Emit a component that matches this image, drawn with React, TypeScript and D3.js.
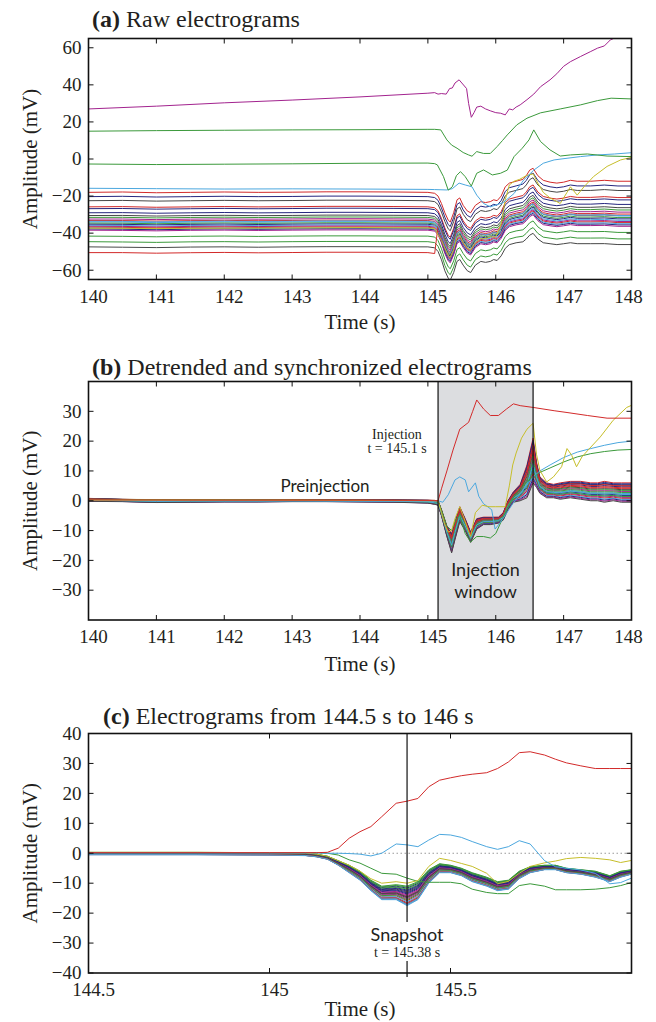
import React from "react";
import * as d3 from "d3";

const RED = "#d22a2a", NAVY = "#26267f", GREEN = "#3b993b", LBLUE = "#4ba7de", MAGENTA = "#a2238e", YELLOW = "#c6be2a", DGRAY = "#474747";

// ---------- Panel (a) raw electrograms ----------
const timeA = [140, 140.5, 141, 141.5, 142, 142.5, 143, 143.5, 144, 144.5, 145.0,
  145.1, 145.15, 145.2, 145.25, 145.3, 145.33, 145.38, 145.43, 145.47, 145.52,
  145.58, 145.63, 145.7, 145.78, 145.85, 145.92, 145.97, 146.02, 146.08, 146.14,
  146.2, 146.3, 146.4, 146.45, 146.5, 146.55, 146.62, 146.7, 146.8, 146.9,
  147.0, 147.1, 147.2, 147.4, 147.6, 147.8, 148.0];
const hiRelA = [0, 0.2, -0.2, 0, 0.2, 0, 0.1, 0.3, 0.3, 0.2, 0,
  -0.5, -2, -6, -11, -15, -16, -11, -4, -3, -7,
  -10, -11, -7, -5, -5.5, -5, -4, -4.5, -2, 3,
  5, 6, 7, 9, 12, 13, 9, 6.5, 5.5, 5,
  5.5, 6.5, 6, 6, 6.5, 6, 6];
const loRelA = [0, -0.2, -0.4, -0.1, 0, -0.2, 0, 0.1, 0.1, 0, 0,
  -0.5, -2.5, -7, -13, -17, -18, -14, -8, -7, -10,
  -13, -14, -10, -8, -8.5, -8, -7, -7.5, -5, -1,
  1, 2, 2.5, 4, 6, 7, 4, 2, 1.5, 1,
  1.5, 2, 1.5, 1.5, 1.5, 1, 1];

const bundleColors = [RED, NAVY, DGRAY, RED, NAVY, NAVY, DGRAY, GREEN, MAGENTA, RED, LBLUE, GREEN,
  NAVY, LBLUE, MAGENTA, RED, LBLUE, NAVY, MAGENTA, GREEN, GREEN, DGRAY, RED, LBLUE];
const baseA = [-18, -20.3, -22.5, -25.8, -26.8, -29, -30.5, -31.5, -32.4, -33.2, -34, -34.6,
  -35.2, -35.8, -36.3, -36.8, -37.3, -37.8, -38.4, -41.6, -44.6, -47.4, -50.5, -33.6];
const baseAfterA = [-18, -20.3, -22.5, -25.8, -26.8, -29, -30.5, -31.5, -32.4, -33.2, -34, -34.6,
  -35.2, -35.8, -36.3, -36.8, -37.3, -37.8, -38.4, -41.6, -44.6, -47.4, -34, -33.6];
const fracA = [0, 0.05, 0.1, 0.2, 0.25, 0.3, 0.35, 0.4, 0.45, 0.5, 0.55, 0.6,
  0.62, 0.65, 0.68, 0.7, 0.72, 0.75, 0.78, 0.8, 0.9, 0.95, 0.5, 0.58];

const purpleAT = [140, 141, 142, 143, 144, 145, 145.1, 145.15, 145.2, 145.27, 145.32, 145.36, 145.4, 145.46,
  145.5, 145.57, 145.6, 145.64, 145.68, 145.72, 145.78, 145.85, 145.92, 146.0, 146.07, 146.14, 146.2,
  146.25, 146.3, 146.36, 146.46, 146.56, 146.66, 146.8, 146.9, 147.0, 147.1, 147.25, 147.4, 147.5,
  147.6, 147.69, 147.8, 148];
const purpleAV = [27, 28.5, 30.3, 31.8, 33.5, 35.5, 35.8, 35, 35.3, 35, 38, 38.3, 41, 42.7,
  41, 38, 30, 22.5, 25, 28, 28.5, 27, 26, 25, 24.7, 23.8, 27,
  26.5, 28, 29.2, 32, 35, 39, 42.7, 46, 50, 52.5, 55.3, 58, 59.8,
  61, 64.3, 66, 68];
const greenTopAT = [140, 141, 142, 143, 144, 145, 145.1, 145.19, 145.28, 145.35, 145.43, 145.52, 145.6,
  145.65, 145.72, 145.82, 145.92, 146.02, 146.1, 146.17, 146.31, 146.46, 146.66, 146.95, 147.25,
  147.5, 147.7, 148];
const greenTopAV = [15, 15.3, 15.5, 15.7, 15.8, 16, 16, 15.7, 10.3, 7.5, 5.8, 3.5, 2.2,
  1.5, 4, 3, 3, 6.7, 10, 13, 18.4, 22, 24.9, 27, 29.2,
  31.5, 32.8, 32.4];
const green2AT = [140, 141, 142, 143, 144, 145, 145.1, 145.14, 145.23, 145.3, 145.36, 145.42, 145.48,
  145.55, 145.64, 145.72, 145.82, 145.95, 146.07, 146.17, 146.27, 146.39, 146.49, 146.56, 146.66,
  146.8, 146.95, 147.1, 147.35, 147.64, 148];
const green2AV = [-2.7, -3, -2.8, -2.6, -2.3, -2.2, -2.5, -3.2, -9.5, -16.8, -15, -9, -6.8,
  -9.5, -14.6, -7.7, -5.9, -8.6, -7.7, -6, 1.3, 5.8, 10.3, 15.7, 9.4,
  4.9, 1.6, 2.2, 2.7, 1.6, 1.3];
const blueAT = [140, 141, 142, 143, 144, 145, 145.1, 145.28, 145.36, 145.46, 145.55, 145.65, 145.72,
  145.82, 145.92, 146.11, 146.27, 146.41, 146.56, 146.7, 146.86, 147.05, 147.25, 147.5, 147.75, 148];
const blueAV = [-15.8, -16, -16.2, -16.1, -16.2, -16.4, -16.5, -16.7, -16, -13, -14, -15, -19.5,
  -24, -25.8, -23.5, -18.6, -11.4, -6, -2.3, -0.5, 0.4, 1.3, 2.2, 2.7, 3.4];
const yellowAT = [140, 141, 142, 143, 144, 145, 145.1, 145.2, 145.3, 145.33, 145.38, 145.43, 145.47,
  145.52, 145.58, 145.63, 145.7, 145.78, 145.85, 145.92, 146.0, 146.08, 146.14, 146.2, 146.27, 146.35,
  146.45, 146.55, 146.62, 146.7, 146.8, 146.95, 147.05, 147.1, 147.2, 147.3, 147.44, 147.64, 147.84, 148];
const yellowAV = [-37.3, -37.5, -37.3, -37.2, -37, -37.2, -37.5, -44, -52, -53, -49, -42, -41,
  -45, -48, -49, -45, -43, -43, -42, -42, -35, -22, -14, -12, -11,
  -9, -8, -13, -18, -21, -24, -18, -15, -19.5, -15, -9.5, -4, -0.5, 0.9];

// ---------- Panel (b) detrended ----------
const timeB = [140, 140.5, 141, 141.5, 142, 142.5, 143, 143.5, 144, 144.5, 145.0, 145.1,
  145.15, 145.2, 145.28, 145.35, 145.4, 145.47, 145.55, 145.63, 145.72, 145.82,
  145.92, 146.04, 146.11, 146.18, 146.26, 146.36, 146.46, 146.55, 146.6, 146.65,
  146.75, 146.85, 146.95, 147.1, 147.25, 147.4, 147.5, 147.6, 147.73, 147.85, 148];
const topB = [0.8, 0.5, 0.3, 0.4, 0.3, 0.3, 0.4, 0.3, 0.3, 0.3, 0.2, 0.1,
  0, -3, -8.5, -11, -7, -2, -6, -10.5, -6, -5.5,
  -5.5, -5.5, -4, 0, 3, 5.5, 12, 21, 13, 8,
  6, 5.5, 6, 6.5, 6.5, 6, 6, 6.5, 6, 6, 6];
const botB = [-0.2, -0.3, -0.6, -0.5, -0.4, -0.4, -0.3, -0.3, -0.4, -0.5, -0.8, -1.2,
  -1.5, -5, -12, -17.5, -13, -7, -10, -14, -9.5, -8,
  -8, -7.5, -6.5, -3, -0.5, 0, 1, 6, 4.5, 2.5,
  1, 1, 0.5, 1, 0.5, 0, 0, -0.5, 0, -0.5, -0.5];
const fracB = [0, 0.05, 0.12, 0.3, 0.1, 0.2, 0.35, 0.4, 0.45, 0.25, 0.55, 0.6,
  0.65, 0.7, 0.75, 0.8, 0.85, 0.9, 0.95, 0.5, 0.7, 1.0, 0.15, 0.6];

const redBT = [140, 142, 144, 145.1, 145.15, 145.2, 145.28, 145.37, 145.47, 145.6, 145.66, 145.72, 145.82,
  145.92, 146.04, 146.16, 146.26, 146.36, 146.55, 146.86, 147.05, 147.35, 147.64, 148];
const redBV = [0.3, 0.2, 0.2, 0.1, 0, 4, 10, 17, 24, 26.3, 30, 33.8, 30.8,
  28.6, 28.6, 30.8, 32.5, 31.9, 31.3, 30.2, 29.6, 28.6, 27.7, 27.7];
const yellowBT = [140, 142, 144, 145.1, 145.15, 145.2, 145.25, 145.3, 145.35, 145.4, 145.47, 145.52, 145.58,
  145.63, 145.7, 145.8, 145.9, 146.0, 146.14, 146.2, 146.25, 146.3, 146.38, 146.46, 146.55, 146.6,
  146.65, 146.75, 146.85, 146.97, 147.05, 147.12, 147.19, 147.27, 147.36, 147.54, 147.73, 147.93, 148];
const yellowBV = [0.2, 0.2, 0.1, 0, 0, -4, -8, -10.5, -10, -6, -2, -5, -9,
  -12, -4, -1.5, -2, -2, -2, 5, 12, 16, 21, 24, 26, 15.6,
  10.2, 6.3, 8, 11.4, 17.5, 15.2, 11.4, 14.7, 17, 21.4, 27, 31.3, 32];
const blueBT = [140, 142, 144, 145.1, 145.15, 145.22, 145.3, 145.4, 145.47, 145.55, 145.6, 145.7, 145.75,
  145.82, 145.94, 145.99, 146.06, 146.15, 146.25, 146.35, 146.45, 146.55, 146.65, 146.8, 147.0, 147.2,
  147.4, 147.6, 147.8, 148];
const blueBV = [0.1, 0, -0.1, -0.2, 0, -0.5, 2, 7, 8, 7, 3, 6, 1.5,
  -1, -3, -9.5, -7.5, -4.5, -1, 2, 5, 8, 10, 12, 14.5, 16.3,
  17.5, 18.6, 19.5, 20];
const greenBT = [140, 142, 144, 145.1, 145.15, 145.2, 145.28, 145.35, 145.42, 145.47, 145.55, 145.63, 145.72,
  145.82, 145.92, 146.0, 146.1, 146.18, 146.26, 146.36, 146.46, 146.55, 146.65, 146.8, 147.0, 147.2,
  147.4, 147.6, 147.8, 148];
const greenBV = [0.5, 0.3, 0.2, 0.1, 0, -3, -8.5, -10, -6, -5, -11, -13.8, -12,
  -12, -12.5, -11, -6, -2, 1, 4, 6.5, 8, 9.5, 11, 13, 14.7,
  15.8, 16.5, 17, 17.2];

// ---------- Panel (c) 144.5 s to 146 s ----------
const timeC = [144.5, 144.8, 145.0, 145.1, 145.13, 145.16, 145.19, 145.22, 145.25, 145.28,
  145.31, 145.35, 145.38, 145.41, 145.44, 145.47, 145.5, 145.53, 145.56, 145.6,
  145.63, 145.66, 145.69, 145.72, 145.76, 145.79, 145.82, 145.86, 145.9, 145.94,
  145.97, 146.0];
const topC = [0.3, 0.3, 0.2, 0.1, -0.3, -1, -2.5, -4, -6, -9,
  -11, -10.5, -11, -9.5, -5.5, -3.5, -4, -5, -6.5, -8,
  -9.5, -9, -6, -4.5, -4, -4, -5, -5.5, -6, -7.5, -6, -5.5];
const botC = [-0.5, -0.5, -0.6, -0.8, -1.2, -2, -4, -6.5, -9, -12.5,
  -15.5, -15.5, -17.5, -15.5, -10, -6.5, -6.5, -7.5, -9.5, -11,
  -12.5, -12, -8.5, -6.5, -5.5, -5.5, -6.5, -7, -8, -9.5, -8, -7];
const fracC = [0.55, 0.2, 0.3, 0.95, 0.1, 0.4, 0.6, 0.05, 0.5, 0.85, 1.0, 0.15,
  0.35, 0.9, 0.45, 0.75, 0.8, 0.25, 0.65, 0.7, 0.0, 0.55, 0.9, 0.95];
const redCV = [0.2, 0.2, 0.2, 0.2, 0.2, 0.3, 1.7, 5, 7.2, 8.9,
  12.2, 16.7, 17.4, 18.3, 22.2, 24.4, 25.2, 25.9, 26.4, 26.9,
  28.3, 30.5, 33.6, 33.9, 32.8, 31.4, 30.2, 29.2, 28.3, 28.3, 28.3, 28.3];
const blueCV = [0.1, 0.1, 0.1, 0.1, 0.1, 0, 0, -0.1, -0.3, -0.9,
  0, 3.1, 2.8, 2.2, 4.4, 6.3, 6.1, 5.3, 3.9, 2.2,
  1.3, 2.2, 4.2, 3.1, -2.5, -4.5, -5, -5.6, -6.7, -10.2, -9.8, -8.3];
const yellowCV = [0.3, 0.3, 0.2, 0.1, -0.3, -1, -2.5, -4, -6, -8.5,
  -10, -9.5, -10, -9.1, -4.4, -1.7, -2.4, -3.4, -4.4, -6.7,
  -10.2, -9.4, -6.7, -4.4, -3.2, -2.6, -1.8, -1.4, -1.7, -2.2, -3.1, -2.4];
const greenCV = [0.2, 0.2, 0.2, 0.2, 0.2, 0, -0.6, -2.2, -3.3, -5,
  -6.7, -7, -8.3, -9.4, -9.7, -9.7, -9.7, -10.2, -12, -13.1,
  -13.5, -13.5, -10.8, -10.2, -11, -12.2, -12.2, -12.2, -12, -11.5, -10.8, -9.8];

// ---------- ticks ----------
const xTicksAB = [140, 141, 142, 143, 144, 145, 146, 147, 148];
const yTicksA = [-60, -40, -20, 0, 20, 40, 60];
const yTicksB = [-30, -20, -10, 0, 10, 20, 30];
const xTicksC = [144.5, 145, 145.5];
const yTicksC = [-40, -30, -20, -10, 0, 10, 20, 30, 40];
const injectionStart = 145.15, injectionEnd = 146.55, snapshotT = 145.38;

type Series = { t: number[]; v: number[]; color: string };

const PL = 88.5, PR = 631.5;
const SERIF = "Liberation Serif";
const SANS = "Lato";
const TXT = "#231f20";

function fmt(d: number) {
  return d < 0 ? "\u2212" + Math.abs(d) : String(d);
}

type PanelProps = {
  id: string; top: number; bottom: number;
  xDomain: [number, number]; yDomain: [number, number];
  xTicks: number[]; yTicks: number[];
  series: Series[];
  titleBold: string; titleRest: string; titleX: number; titleY: number;
  xLabOff: number; xTitleY: number;
  under?: (x: any, y: any) => React.ReactNode;
  over?: (x: any, y: any) => React.ReactNode;
};

function Panel(p: PanelProps) {
  const x = d3.scaleLinear().domain(p.xDomain).range([PL, PR]);
  const y = d3.scaleLinear().domain(p.yDomain).range([p.bottom, p.top]);
  const line = d3.line<[number, number]>().x(d => x(d[0])).y(d => y(d[1])).curve(d3.curveLinear);
  const tl = 5;
  return (
    <g>
      <defs>
        <clipPath id={p.id}>
          <rect x={PL} y={p.top} width={PR - PL} height={p.bottom - p.top} />
        </clipPath>
      </defs>
      {p.under && p.under(x, y)}
      <g clipPath={`url(#${p.id})`}>
        {p.series.map((s, i) => (
          <path key={i} d={line(s.t.map((t, j) => [t, s.v[j]] as [number, number])) || ""}
            fill="none" stroke={s.color} strokeWidth={1} strokeLinejoin="round" />
        ))}
      </g>
      {p.over && p.over(x, y)}
      <rect x={PL} y={p.top} width={PR - PL} height={p.bottom - p.top} fill="none" stroke="#111" strokeWidth={1.6} />
      {p.xTicks.map(t => (
        <g key={"xt" + t}>
          <line x1={x(t)} x2={x(t)} y1={p.bottom} y2={p.bottom - tl} stroke="#111" />
          <line x1={x(t)} x2={x(t)} y1={p.top} y2={p.top + tl} stroke="#111" />
          <text x={x(t) + (t === p.xDomain[1] ? -3 : 5)} y={p.bottom + p.xLabOff} textAnchor="middle" fontFamily={SERIF} fontSize={19} fill={TXT}>{fmt(t)}</text>
        </g>
      ))}
      {p.yTicks.map(v => (
        <g key={"ym" + v}>
          <line x1={PL} x2={PL + tl} y1={y(v)} y2={y(v)} stroke="#111" />
          <line x1={PR} x2={PR - tl} y1={y(v)} y2={y(v)} stroke="#111" />
          <text x={PL - 7} y={y(v)} dy="0.33em" textAnchor="end" fontFamily={SERIF} fontSize={19} fill={TXT}>{fmt(v)}</text>
        </g>
      ))}
      <text x={(PL + PR) / 2} y={p.xTitleY} textAnchor="middle" fontFamily={SERIF} fontSize={21} fill={TXT}>Time (s)</text>
      <text transform={`translate(37,${(p.top + p.bottom) / 2}) rotate(-90)`} textAnchor="middle" fontFamily={SERIF} fontSize={21} fill={TXT}>Amplitude (mV)</text>
      <text x={p.titleX} y={p.titleY} fontFamily={SERIF} fontSize={24} fill={TXT}>
        <tspan fontWeight="bold">{p.titleBold}</tspan>
        <tspan>{" " + p.titleRest}</tspan>
      </text>
    </g>
  );
}

function bundle(time: number[], hi: number[], lo: number[], frac: number[], base?: number[], baseAfter?: number[], switchT?: number): Series[] {
  return frac.map((f, i) => ({
    t: time,
    color: bundleColors[i],
    v: time.map((t, j) => {
      const b = base ? ((switchT !== undefined && t >= switchT && baseAfter) ? baseAfter[i] : base[i]) : 0;
      return b + hi[j] + f * (lo[j] - hi[j]);
    }),
  }));
}

export default function App() {
  const seriesA: Series[] = [
    ...bundle(timeA, hiRelA, loRelA, fracA, baseA, baseAfterA, 145.15),
    { t: yellowAT, v: yellowAV, color: YELLOW },
    { t: blueAT, v: blueAV, color: LBLUE },
    { t: green2AT, v: green2AV, color: GREEN },
    { t: greenTopAT, v: greenTopAV, color: GREEN },
    { t: purpleAT, v: purpleAV, color: MAGENTA },
  ];
  const seriesB: Series[] = [
    ...bundle(timeB, topB, botB, fracB),
    { t: greenBT, v: greenBV, color: GREEN },
    { t: blueBT, v: blueBV, color: LBLUE },
    { t: yellowBT, v: yellowBV, color: YELLOW },
    { t: redBT, v: redBV, color: RED },
  ];
  const seriesC: Series[] = [
    ...bundle(timeC, topC, botC, fracC),
    { t: timeC, v: greenCV, color: GREEN },
    { t: timeC, v: yellowCV, color: YELLOW },
    { t: timeC, v: blueCV, color: LBLUE },
    { t: timeC, v: redCV, color: RED },
  ];

  return (
    <svg width={656} height={1022} style={{ position: "absolute", left: 0, top: 0, background: "#fff" }}>
      <rect x={0} y={0} width={656} height={1022} fill="#fff" />
      <Panel id="clipA" top={38.5} bottom={279.5} xDomain={[140, 148]} yDomain={[-65, 65]}
        xTicks={xTicksAB} yTicks={yTicksA} series={seriesA}
        titleBold="(a)" titleRest="Raw electrograms" titleX={92} titleY={27}
        xLabOff={23} xTitleY={329} />
      <Panel id="clipB" top={381.5} bottom={620} xDomain={[140, 148]} yDomain={[-40, 40]}
        xTicks={xTicksAB} yTicks={yTicksB} series={seriesB}
        titleBold="(b)" titleRest="Detrended and synchronized electrograms" titleX={92} titleY={375}
        xLabOff={23} xTitleY={671}
        under={(x, y) => (
          <rect x={x(injectionStart)} y={y(40)} width={x(injectionEnd) - x(injectionStart)} height={y(-40) - y(40)} fill="#dcdde0" />
        )}
        over={(x, y) => (
          <g>
            <line x1={x(injectionStart)} x2={x(injectionStart)} y1={y(40)} y2={y(-40)} stroke="#111" strokeWidth={1.2} />
            <line x1={x(injectionEnd)} x2={x(injectionEnd)} y1={y(40)} y2={y(-40)} stroke="#111" strokeWidth={1.2} />
            <text x={(x(injectionStart) + x(injectionEnd)) / 2} y={576} textAnchor="middle" fontFamily={SANS} fontSize={18} fill={TXT}>Injection</text>
            <text x={(x(injectionStart) + x(injectionEnd)) / 2} y={598} textAnchor="middle" fontFamily={SANS} fontSize={18} fill={TXT}>window</text>
            <text x={397} y={439} textAnchor="middle" fontFamily={SERIF} fontSize={14} fill={TXT}>Injection</text>
            <text x={397} y={453} textAnchor="middle" fontFamily={SERIF} fontSize={14} fill={TXT}>t = 145.1 s</text>
            <text x={325} y={492} textAnchor="middle" fontFamily={SANS} fontSize={17} fill={TXT}>Preinjection</text>
          </g>
        )} />
      <Panel id="clipC" top={733.5} bottom={973} xDomain={[144.5, 146]} yDomain={[-40, 40]}
        xTicks={xTicksC} yTicks={yTicksC} series={seriesC}
        titleBold="(c)" titleRest="Electrograms from 144.5 s to 146 s" titleX={103} titleY={724}
        xLabOff={23} xTitleY={1016}
        under={(x, y) => (
          <line x1={PL} x2={PR} y1={y(0)} y2={y(0)} stroke="#999" strokeWidth={1} strokeDasharray="1.5,2.5" />
        )}
        over={(x, y) => (
          <g>
            <line x1={x(snapshotT)} x2={x(snapshotT)} y1={y(40)} y2={922} stroke="#111" strokeWidth={1.2} />
            <line x1={x(snapshotT)} x2={x(snapshotT)} y1={961} y2={y(-40) + 4} stroke="#111" strokeWidth={1.2} />
            <text x={x(snapshotT)} y={941} textAnchor="middle" fontFamily={SANS} fontSize={18} fill={TXT}>Snapshot</text>
            <text x={x(snapshotT)} y={957} textAnchor="middle" fontFamily={SERIF} fontSize={14} fill={TXT}>t = 145.38 s</text>
          </g>
        )} />
    </svg>
  );
}
